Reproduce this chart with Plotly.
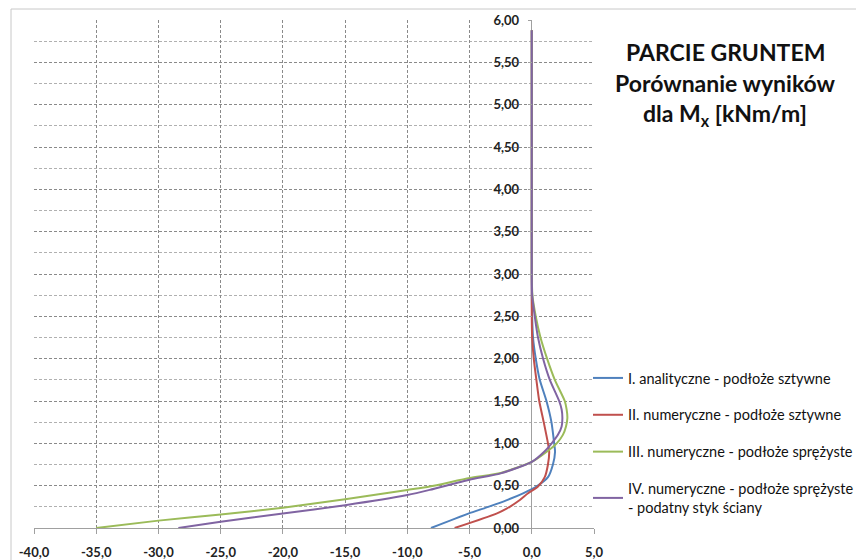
import plotly.graph_objects as go

# ---- data ----
y_I = [0, 0.17, 0.25, 0.33, 0.41, 0.49, 0.6, 0.75, 0.9, 1.0, 1.25, 1.5, 1.75, 2.0, 2.25, 2.5, 2.75, 3.0, 4.0, 5.0, 5.88]
x_I = [-8.1, -5.1, -3.5, -2.0, -0.7, 0.37, 1.3, 1.7, 1.87, 1.8, 1.58, 1.18, 0.64, 0.32, 0.1, 0.03, 0, 0, 0, 0, 0]

y_II = [0, 0.17, 0.25, 0.33, 0.41, 0.49, 0.6, 0.75, 0.9, 1.0, 1.25, 1.5, 1.75, 2.0, 2.25, 2.5, 2.75, 3.0, 4.0, 5.0, 5.88]
x_II = [-6.2, -2.84, -1.77, -0.96, -0.3, 0.5, 1.04, 1.3, 1.4, 1.3, 0.96, 0.6, 0.37, 0.16, 0.03, 0, 0, 0, 0, 0, 0]

y_III = [0, 0.087, 0.16, 0.24, 0.34, 0.45, 0.49, 0.59, 0.65, 0.78, 0.9, 1.0, 1.1, 1.2, 1.3, 1.4, 1.5, 1.75, 2.0, 2.25, 2.5, 2.75, 3.0, 4.0, 5.0, 5.88]
x_III = [-35, -30, -25, -20, -15, -10, -8.2, -5, -2.5, 0, 1.2, 2.0, 2.5, 2.75, 2.86, 2.8, 2.65, 1.85, 1.23, 0.7, 0.32, 0.05, 0, 0, 0, 0]

y_IV = [0, 0.075, 0.17, 0.27, 0.39, 0.45, 0.57, 0.645, 0.78, 0.9, 1.0, 1.1, 1.2, 1.3, 1.4, 1.5, 1.75, 2.0, 2.25, 2.5, 2.75, 3.0, 4.0, 5.0, 5.88]
x_IV = [-28.4, -25, -20, -15, -10, -8.2, -5, -2.5, 0, 1.0, 1.6, 2.1, 2.4, 2.46, 2.4, 2.2, 1.45, 0.91, 0.5, 0.24, 0.03, 0, 0, 0, 0]

series_names = [
    "I. analityczne - podłoże sztywne",
    "II. numeryczne - podłoże sztywne",
    "III. numeryczne - podłoże sprężyste",
    "IV. numeryczne - podłoże sprężyste<br>- podatny styk ściany",
]
series_colors = ["#4f81bd", "#c0504d", "#9bbb59", "#8064a2"]

x_tick_vals = [-40, -35, -30, -25, -20, -15, -10, -5, 0, 5]
x_tick_labels = ["-40,0", "-35,0", "-30,0", "-25,0", "-20,0", "-15,0", "-10,0", "-5,0", "0,0", "5,0"]
y_tick_vals = [0, 0.5, 1.0, 1.5, 2.0, 2.5, 3.0, 3.5, 4.0, 4.5, 5.0, 5.5, 6.0]
y_tick_labels = ["0,00", "0,50", "1,00", "1,50", "2,00", "2,50", "3,00", "3,50", "4,00", "4,50", "5,00", "5,50", "6,00"]

title_lines = ["PARCIE GRUNTEM", "Porównanie wyników", "dla M<sub>x</sub> [kNm/m]"]

# ---- figure ----
# the page body has an 8px margin, so the figure is drawn 8px smaller and
# all screen-pixel positions are shifted by OFF
OFF = 8
W, H = 864 - OFF, 560 - OFF
L = 34 - OFF
T = 20 - OFF
R = W - (594 - OFF)
B = H - (528 - OFF)
FONT = "Lato, 'Open Sans', sans-serif"

pw = W - L - R
ph = H - T - B


def px_x(sx):
    return (sx - OFF - L) / pw


def px_y(sy):
    return (H - B - (sy - OFF)) / ph


fig = go.Figure()
for xs, ys, name, col, grp in zip([x_I, x_II, x_III, x_IV], [y_I, y_II, y_III, y_IV],
                                  series_names, series_colors, ["a", "b", "c", "d"]):
    fig.add_trace(go.Scatter(x=xs, y=ys, mode="lines", name=name, legendgroup=grp,
                             line=dict(color=col, width=2, shape="spline", smoothing=0.6)))

x0_pos = (0 - (-40)) / 45.0

fig.update_layout(
    width=W, height=H,
    margin=dict(l=L, r=R, t=T, b=B, autoexpand=False),
    paper_bgcolor="white", plot_bgcolor="white",
    font=dict(family=FONT, color="#222222"),
    showlegend=True,
    legend=dict(x=px_x(588), xanchor="left",
                y=px_y(362), yanchor="top",
                traceorder="grouped", tracegroupgap=15,
                itemwidth=30, font=dict(size=14.5, color="#111111", family=FONT),
                bgcolor="rgba(0,0,0,0)"),
    xaxis=dict(range=[-40, 5], tickvals=x_tick_vals, ticktext=x_tick_labels,
               automargin=False,
               showgrid=True, gridcolor="#8a8a8a", griddash="3px,2px", gridwidth=1,
               zeroline=True, zerolinecolor="#a0a0a0", zerolinewidth=1,
               showline=True, linecolor="#a0a0a0", linewidth=1,
               ticks="outside", ticklen=5, tickcolor="#a0a0a0",
               ticklabelstandoff=7,
               tickfont=dict(size=13, color="#222222", family=FONT, weight="bold")),
    yaxis=dict(range=[0, 6], tickvals=y_tick_vals, ticktext=y_tick_labels,
               automargin=False,
               anchor="free", position=x0_pos,
               showgrid=True, gridcolor="#8a8a8a", griddash="3px,2px", gridwidth=1,
               minor=dict(tickvals=[v + 0.25 for v in y_tick_vals[:-1]], showgrid=True,
                          gridcolor="#b0b0b0", griddash="3px,2px", ticks=""),
               zeroline=False, showline=False,
               ticks="outside", ticklen=4, tickcolor="#a0a0a0",
               ticklabelstandoff=6,
               tickfont=dict(size=13, color="#222222", family=FONT, weight="bold")),
)

# outer chart border
fig.add_shape(type="rect", xref="paper", yref="paper",
              x0=px_x(11), x1=px_x(861),
              y0=px_y(575), y1=px_y(9),
              line=dict(color="#c8c8c8", width=1), fillcolor="rgba(0,0,0,0)", layer="below")

# title text block
for i, line in enumerate(title_lines):
    fig.add_annotation(xref="paper", yref="paper",
                       x=px_x(725), y=px_y(52 + 31 * i),
                       text=line, showarrow=False, xanchor="center", yanchor="middle",
                       font=dict(size=23, color="#111111", family=FONT, weight="bold"))

fig.write_html("out.html")
